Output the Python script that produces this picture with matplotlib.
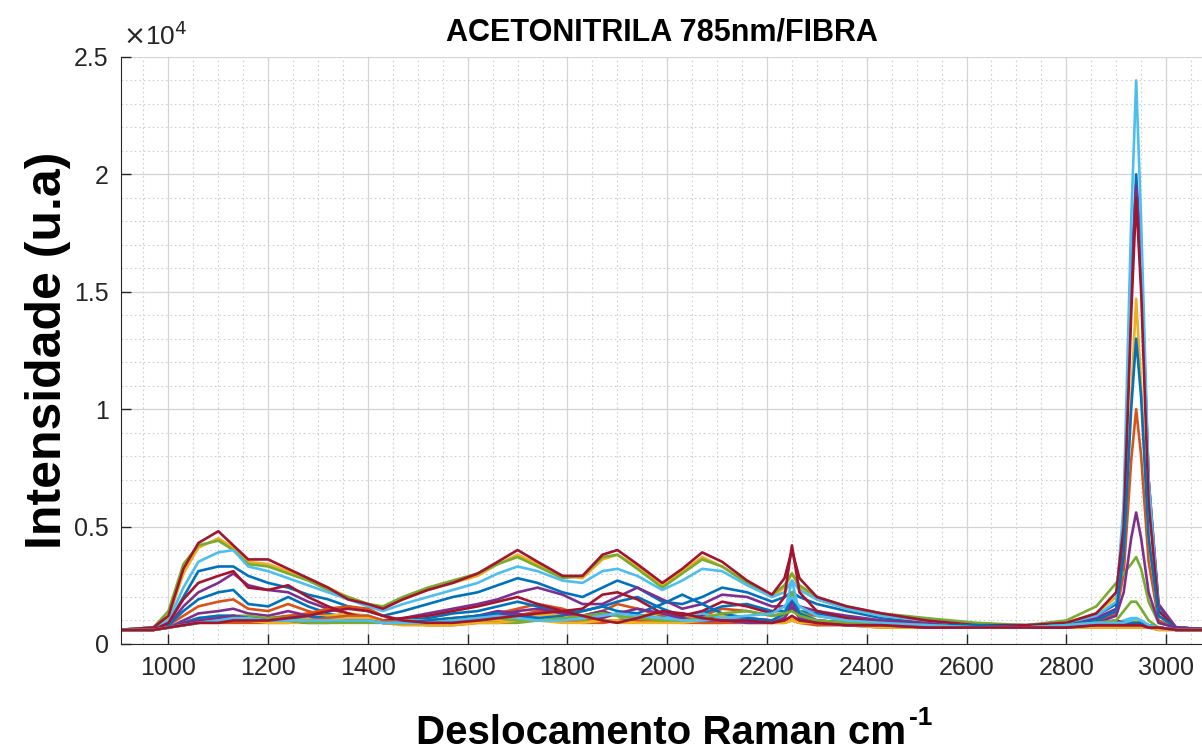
import numpy as np
import matplotlib.pyplot as plt
from matplotlib.ticker import MultipleLocator, FuncFormatter

plt.rcParams['font.family'] = ['Liberation Sans', 'DejaVu Sans']

# Raman shift grid (cm-1), shared by all spectra
raman_shift = [900, 970, 1000, 1030, 1060, 1100, 1130, 1160, 1200, 1240, 1280, 1320, 1360, 1400, 1430, 1470,
               1520, 1570, 1620, 1660, 1700, 1740, 1790, 1830, 1870, 1900, 1940, 1990, 2030, 2070, 2110, 2160, 2210,
               2235, 2250, 2265, 2300, 2360, 2430, 2520, 2620, 2720, 2800, 2860,
               2900, 2915, 2930, 2940, 2950, 2965, 2985, 3020, 3100]

# intensities in units of 100 counts
b1 = [6, 7, 9, 20, 31, 33, 33, 29, 26, 24, 21, 19, 16, 14, 12, 14,
      17, 20, 22, 25, 28, 26, 22, 20, 24, 27, 24, 18, 17, 20, 24, 22, 18,
      20, 22, 20, 17, 14, 11, 9, 8, 8, 9, 12,
      17, 55, 155, 200, 165, 70, 16, 7, 6]
o1 = [6, 6, 8, 12, 16, 18, 19, 15, 14, 17, 14, 12, 12, 11, 9, 9,
      10, 11, 12, 13, 15, 17, 15, 12, 14, 17, 15, 12, 11, 12, 15, 14, 12,
      13, 15, 13, 12, 10, 9, 8, 7, 7, 8, 10,
      13, 30, 78, 100, 80, 35, 10, 7, 6]
y1 = [6, 7, 11, 30, 41, 45, 41, 35, 34, 31, 28, 24, 20, 17, 15, 19,
      23, 26, 29, 34, 38, 34, 29, 28, 36, 38, 33, 25, 31, 37, 33, 26, 20,
      24, 30, 24, 19, 15, 12, 10, 8, 8, 9, 13,
      20, 40, 105, 147, 110, 45, 12, 7, 6]
p1 = [6, 6, 8, 16, 22, 26, 30, 25, 23, 22, 18, 15, 13, 11, 10, 11,
      13, 15, 17, 19, 22, 24, 21, 17, 17, 20, 24, 19, 15, 17, 21, 20, 16,
      16, 18, 16, 14, 12, 10, 9, 8, 7, 8, 11,
      15, 50, 150, 195, 160, 70, 17, 7, 6]
g1 = [6, 7, 14, 34, 42, 44, 40, 34, 33, 30, 27, 23, 20, 17, 16, 20,
      24, 27, 30, 34, 37, 33, 28, 29, 37, 38, 32, 24, 30, 36, 33, 26, 21,
      25, 30, 25, 20, 16, 13, 11, 9, 8, 10, 16,
      26, 30, 34, 37, 32, 18, 9, 7, 6]
c1 = [6, 7, 10, 24, 35, 39, 40, 33, 31, 28, 25, 22, 19, 16, 14, 17,
      20, 23, 26, 30, 33, 31, 27, 26, 31, 32, 29, 23, 27, 32, 31, 25, 20,
      22, 27, 23, 19, 15, 12, 10, 8, 8, 9, 12,
      18, 60, 180, 240, 180, 70, 14, 7, 6]
r1 = [6, 7, 12, 32, 43, 48, 42, 36, 36, 32, 28, 24, 19, 17, 15, 19,
      23, 26, 30, 35, 40, 35, 29, 29, 38, 40, 34, 26, 32, 39, 35, 27, 21,
      28, 40, 28, 20, 16, 13, 10, 8, 8, 9, 13,
      22, 50, 140, 190, 150, 60, 14, 7, 6]
b2 = [6, 6, 8, 14, 19, 22, 23, 17, 16, 20, 16, 13, 11, 10, 9, 10,
      11, 13, 14, 16, 18, 16, 13, 14, 16, 18, 20, 15, 12, 13, 16, 17, 14,
      14, 15, 14, 13, 11, 9, 8, 8, 7, 8, 10,
      14, 38, 100, 130, 105, 45, 12, 7, 6]
o2 = [6, 6, 7, 8, 9, 10, 10, 10, 11, 12, 13, 15, 16, 15, 12, 10,
      9, 9, 10, 11, 12, 14, 13, 11, 10, 10, 12, 11, 10, 11, 12, 11, 9,
      10, 11, 10, 9, 8, 8, 7, 7, 7, 7, 8,
      8, 8, 8, 8, 8, 7, 7, 6, 6]
y2 = [6, 6, 7, 9, 11, 11, 11, 11, 10, 10, 11, 12, 13, 12, 10, 9,
      9, 9, 9, 10, 11, 12, 13, 12, 10, 9, 9, 10, 11, 12, 12, 11, 10,
      10, 11, 10, 9, 9, 8, 8, 7, 7, 7, 8,
      9, 9, 9, 10, 9, 8, 7, 6, 6]
p2 = [6, 6, 7, 10, 13, 14, 15, 13, 12, 14, 12, 10, 10, 11, 9, 9,
      9, 10, 12, 14, 13, 11, 10, 12, 14, 12, 10, 11, 13, 12, 10, 11, 10,
      11, 18, 12, 10, 9, 8, 8, 7, 7, 8, 9,
      12, 22, 45, 56, 45, 22, 9, 7, 6]
g2 = [6, 6, 7, 9, 10, 11, 12, 12, 11, 11, 10, 10, 11, 12, 10, 10,
      10, 11, 10, 9, 9, 10, 11, 10, 9, 10, 12, 13, 10, 9, 9, 10, 10,
      12, 22, 14, 10, 9, 8, 8, 7, 7, 8, 9,
      9, 9, 9, 9, 9, 8, 7, 6, 6]
c2 = [6, 6, 7, 9, 11, 12, 12, 11, 10, 10, 10, 11, 12, 12, 10, 10,
      10, 10, 11, 12, 12, 11, 10, 11, 13, 12, 10, 11, 12, 13, 11, 10, 10,
      13, 27, 13, 10, 9, 8, 8, 7, 7, 8, 9,
      9, 10, 11, 11, 10, 8, 7, 6, 6]
r2 = [6, 6, 9, 19, 26, 29, 31, 24, 23, 25, 20, 16, 13, 11, 10, 11,
      12, 14, 16, 18, 20, 17, 14, 15, 21, 22, 19, 13, 12, 14, 18, 16, 13,
      20, 42, 22, 14, 11, 9, 8, 7, 7, 8, 9,
      10, 9, 8, 8, 8, 7, 7, 6, 6]
b3 = [6, 6, 7, 9, 11, 12, 12, 11, 10, 11, 12, 11, 11, 10, 9, 9,
      10, 11, 12, 13, 12, 11, 12, 14, 16, 14, 13, 17, 21, 17, 13, 11, 10,
      13, 20, 13, 10, 9, 8, 8, 7, 7, 8, 9,
      9, 9, 9, 9, 9, 8, 7, 6, 6]
o3 = [6, 6, 7, 8, 9, 9, 9, 9, 9, 9, 10, 11, 12, 12, 10, 9,
      8, 8, 9, 9, 10, 10, 10, 9, 9, 10, 10, 10, 9, 9, 9, 9, 9,
      9, 10, 9, 8, 8, 7, 7, 7, 7, 7, 7,
      7, 7, 7, 7, 7, 7, 6, 6, 6]
y3 = [6, 6, 7, 8, 9, 10, 10, 10, 9, 9, 9, 10, 11, 11, 9, 8,
      8, 8, 9, 9, 10, 10, 9, 9, 10, 10, 9, 9, 9, 10, 10, 9, 9,
      9, 10, 9, 9, 8, 7, 7, 7, 7, 7, 7,
      7, 7, 7, 7, 7, 7, 6, 6, 6]
p3 = [6, 6, 7, 9, 10, 11, 12, 11, 10, 10, 9, 9, 10, 10, 9, 9,
      9, 10, 11, 12, 14, 15, 13, 12, 11, 13, 15, 13, 11, 10, 10, 9, 9,
      11, 16, 11, 9, 8, 8, 7, 7, 7, 7, 8,
      8, 8, 8, 8, 8, 7, 7, 6, 6]
g3 = [6, 6, 7, 8, 9, 10, 10, 10, 10, 10, 9, 9, 9, 9, 9, 9,
      9, 10, 11, 11, 10, 10, 11, 12, 13, 12, 11, 10, 10, 11, 13, 14, 12,
      13, 14, 12, 10, 9, 8, 8, 7, 7, 8, 9,
      10, 14, 18, 18, 15, 10, 7, 6, 6]
c3 = [6, 6, 7, 8, 9, 10, 11, 11, 10, 10, 10, 10, 10, 10, 9, 9,
      9, 10, 11, 12, 11, 10, 10, 11, 12, 13, 12, 11, 10, 10, 11, 12, 13,
      16, 20, 16, 12, 10, 9, 8, 7, 7, 8, 9,
      9, 9, 10, 11, 10, 8, 7, 6, 6]
r3 = [6, 6, 7, 8, 9, 9, 10, 10, 10, 11, 12, 14, 15, 14, 12, 10,
      9, 9, 10, 11, 12, 13, 14, 12, 10, 9, 11, 14, 13, 11, 10, 10, 9,
      10, 12, 10, 9, 8, 8, 7, 7, 7, 7, 8,
      8, 8, 8, 8, 8, 7, 7, 6, 6]

spectra = [b1, o1, y1, p1, g1, c1, r1,
           b2, o2, y2, p2, g2, c2, r2,
           b3, o3, y3, p3, g3, c3, r3]

# matlab default line colours
matlab_colors = ['#0072BD', '#D95319', '#EDB120', '#7E2F8E', '#77AC30', '#4DBEEE', '#A2142F']

fig = plt.figure(figsize=(12.02, 7.53), dpi=100)
ax = fig.add_axes([0.1007, 0.1448, 0.8993, 0.7796])
ax.set_prop_cycle(color=matlab_colors)

x = np.array(raman_shift)
for s in spectra:
    ax.plot(x, np.array(s) * 100, lw=1.9)

ax.set_xlim(905, 3072)
ax.set_ylim(0, 25000)

ax.xaxis.set_major_locator(MultipleLocator(200))
ax.xaxis.set_minor_locator(MultipleLocator(50))
ax.yaxis.set_major_locator(MultipleLocator(5000))
ax.yaxis.set_minor_locator(MultipleLocator(1000))
ax.yaxis.set_major_formatter(FuncFormatter(lambda v, p: '0' if v == 0 else f'{v / 1e4:g}'))

ax.grid(which='major', color='#d4d4d4', lw=0.9)
ax.grid(which='minor', color='#cfcfcf', lw=0.8, ls=(0, (1.5, 2.5)))
ax.set_axisbelow(True)

ax.tick_params(which='major', direction='in', length=7, width=1, colors='#262626',
               labelsize=18, pad=9)
ax.tick_params(which='minor', length=0)
for side in ['top', 'right']:
    ax.spines[side].set_visible(False)
for side in ['left', 'bottom']:
    ax.spines[side].set_color('#262626')

ax.text(0.002, 1.012, r'$\times$10$^4$', transform=ax.transAxes, fontsize=19,
        color='#262626', ha='left', va='bottom')
ax.set_title('ACETONITRILA 785nm/FIBRA', fontsize=22, fontweight='bold', pad=12)
ax.set_ylabel('Intensidade (u.a)', fontsize=36, fontweight='bold', labelpad=2)
ax.set_xlabel('Deslocamento Raman cm', fontsize=29, fontweight='bold', labelpad=24)

# small "-1" superscript right after the x label, like the original
fig.canvas.draw()
bb = ax.xaxis.label.get_window_extent()
fig.text((bb.x1 + 2) / fig.bbox.width, (bb.y1 + 8) / fig.bbox.height, '-1',
         fontsize=19, fontweight='bold', ha='left', va='top')

fig.savefig('out.png', dpi=100)
